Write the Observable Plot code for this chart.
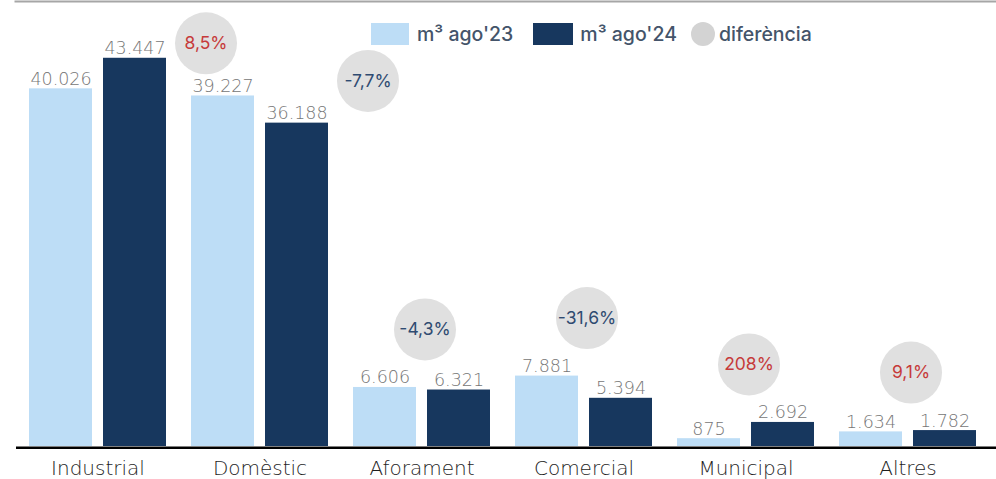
<!DOCTYPE html>
<html>
<head>
<meta charset="utf-8">
<script src="https://cdn.jsdelivr.net/npm/d3@7"></script>
<script src="https://cdn.jsdelivr.net/npm/@observablehq/plot@0.6"></script>
<style>
  html, body { margin: 0; padding: 0; background: #fff; }
  #wrap { position: relative; width: 996px; height: 479px; overflow: hidden; font-family: Inter, "Open Sans", sans-serif; }
  #wrap svg { display: block; }
  #legend { position: absolute; top: 22px; left: 371px; display: flex; align-items: center; font-size: 19.5px; font-weight: 500; color: #44546A; white-space: nowrap; }
  #legend .sw { width: 38px; height: 22px; margin-right: 8px; }
  #legend .it { display: flex; align-items: center; }
  #legend .dot { width: 24px; height: 24px; border-radius: 50%; margin-right: 4px; }
</style>
</head>
<body>
<div id="wrap"><div id="legend"></div></div>
<script>
// ---- data ----
const categories = ["Industrial", "Domèstic", "Aforament", "Comercial", "Municipal", "Altres"];
const ago23 = [40026, 39227, 6606, 7881, 875, 1634];
const ago24 = [43447, 36188, 6321, 5394, 2692, 1782];
const diffLabels = ["8,5%", "-7,7%", "-4,3%", "-31,6%", "208%", "9,1%"];
const seriesNames = ["m³ ago'23", "m³ ago'24", "diferència"];

// ---- styles ----
const LIGHT = "#BDDDF6", DARK = "#17375E", CIRCLE = "#E0E0E0", LEG_CIRCLE = "#D3D3D3";
const RED = "#C63A3A", NAVY = "#2F4B71", GRAY = "#767676";
const THIN = "'DejaVu Sans', sans-serif";

const loc = d3.formatLocale({decimal: ",", thousands: ".", grouping: [3], currency: ["", "€"]});
const fmt = loc.format(",d");

const rows = categories.map((c, i) => ({
  cat: c, v23: ago23[i], v24: ago24[i], diff: diffLabels[i],
  up: ago24[i] >= ago23[i], max: Math.max(ago23[i], ago24[i])
}));
// tall groups have their bubble moved to the right of the bars
const tall = rows.filter(d => d.max > 30000);
const short = rows.filter(d => d.max <= 30000);

const chart = Plot.plot({
  width: 996, height: 479,
  marginLeft: 16.5, marginRight: 7.5, marginTop: 1, marginBottom: 33,
  x: {domain: categories, paddingInner: 0.154, paddingOuter: 0.077, axis: null},
  y: {domain: [0, 49800], axis: null},
  color: {type: "identity"},
  style: {fontFamily: "Inter, sans-serif", background: "#fff"},
  marks: [
    Plot.frame({anchor: "top", stroke: "#A6A6A6", strokeWidth: 2, insetLeft: -1.5, insetRight: -7.5}),
    Plot.barY(rows, {x: "cat", y: "v23", fill: LIGHT, insetRight: 74}),
    Plot.barY(rows, {x: "cat", y: "v24", fill: DARK, insetLeft: 74}),
    Plot.ruleY([0], {stroke: "#000", strokeWidth: 2.4, dy: 1.2, insetLeft: -0.5, insetRight: -8}),
    Plot.text(rows, {x: "cat", y: "v23", text: d => fmt(d.v23), dx: -37, dy: -4, lineAnchor: "bottom",
      fill: GRAY, fontSize: 17.5, fontWeight: 200, fontFamily: THIN}),
    Plot.text(rows, {x: "cat", y: "v24", text: d => fmt(d.v24), dx: 37, dy: -4, lineAnchor: "bottom",
      fill: GRAY, fontSize: 17.5, fontWeight: 200, fontFamily: THIN}),
    Plot.dot(tall, {x: "cat", y: "max", r: 31, fill: CIRCLE, dx: 108, dy: -15}),
    Plot.dot(short, {x: "cat", y: "max", r: 31, fill: CIRCLE, dx: 3, dy: -58}),
    Plot.text(tall, {x: "cat", y: "max", text: "diff", dx: 108, dy: -15, lineAnchor: "middle",
      fill: d => d.up ? RED : NAVY, fontSize: 17.5, fontWeight: 400}),
    Plot.text(short, {x: "cat", y: "max", text: "diff", dx: 3, dy: -58, lineAnchor: "middle",
      fill: d => d.up ? RED : NAVY, fontSize: 17.5, fontWeight: 400}),
    Plot.text(rows, {x: "cat", text: "cat", frameAnchor: "bottom", dy: 28, lineAnchor: "bottom",
      fill: "#1E1E1E", fontSize: 20, fontWeight: 200, fontFamily: THIN})
  ]
});
document.getElementById("wrap").insertBefore(chart, document.getElementById("legend"));

// legend
const leg = document.getElementById("legend");
const swatches = [LIGHT, DARK, LEG_CIRCLE];
const gaps = [20, 14, 0];
seriesNames.forEach((name, i) => {
  const it = document.createElement("div");
  it.className = "it";
  it.style.marginRight = gaps[i] + "px";
  const sw = document.createElement("div");
  sw.className = i === 2 ? "dot" : "sw";
  sw.style.background = swatches[i];
  if (i === 1) { sw.style.width = "40px"; sw.style.marginRight = "7px"; }
  const tx = document.createElement("span");
  tx.textContent = name;
  it.appendChild(sw); it.appendChild(tx);
  leg.appendChild(it);
});
</script>
</body>
</html>
